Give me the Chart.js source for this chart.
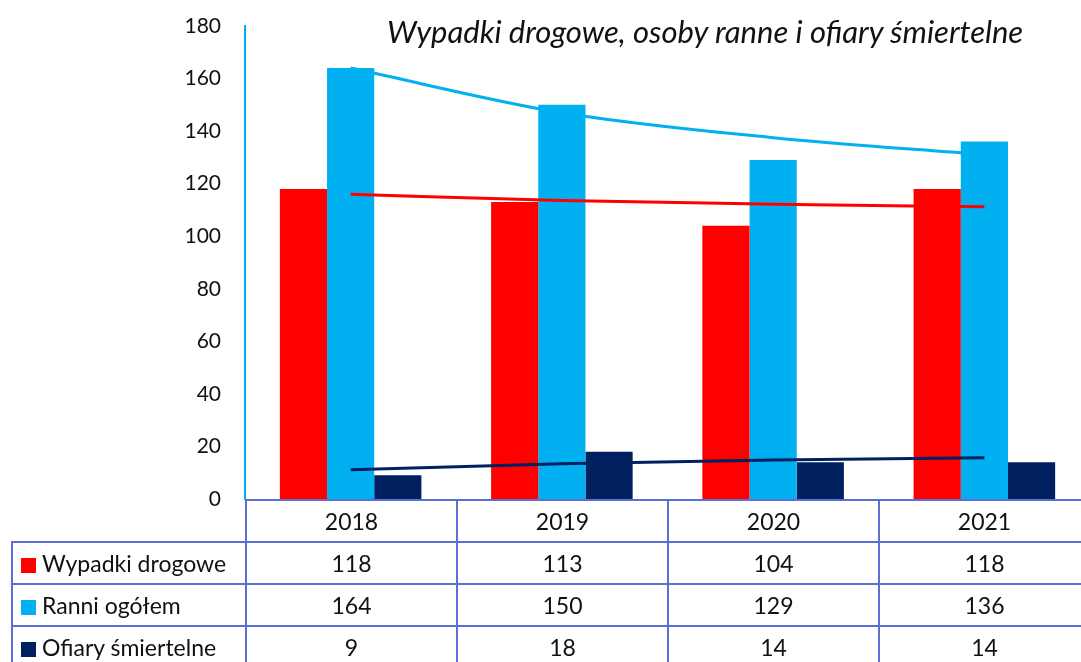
<!DOCTYPE html>
<html lang="pl">
<head>
<meta charset="utf-8">
<script src="https://cdn.jsdelivr.net/npm/chart.js@4.4.1/dist/chart.umd.min.js"></script>
<style>
  html, body { margin: 0; padding: 0; background: #fff; overflow: hidden; }
  body { width: 1081px; height: 662px; position: relative; font-family: Lato, "Noto Sans", sans-serif; }
  #wrap { position: absolute; left: 0; top: 0; width: 1090px; height: 520px; }
  #title {
    position: absolute; left: 387px; top: 12px;
    font: italic 31px Lato, "Noto Sans", sans-serif; color: #111; white-space: nowrap;
  }
  #data-table {
    position: absolute; left: 11px; top: 499px; width: 1079px;
    border-collapse: collapse; table-layout: fixed;
    font-size: 23px; color: #111;
  }
  #data-table td {
    border: 2px solid #5d6fd2; height: 40px; padding: 0;
    text-align: center; white-space: nowrap;
  }
  #data-table td.name { text-align: left; padding-left: 8px; }
  #data-table td.blank { border: none; border-right: 2px solid #5d6fd2; }
  .key { display: inline-block; width: 15px; height: 15px; margin-right: 6px; vertical-align: -1px; }
</style>
</head>
<body>
<div id="wrap"><canvas id="chart"></canvas></div>
<div id="title">Wypadki drogowe, osoby ranne i ofiary śmiertelne</div>
<table id="data-table"></table>
<script>
const years = ["2018", "2019", "2020", "2021"];
const wypadki = [118, 113, 104, 118];
const ranni = [164, 150, 129, 136];
const ofiary = [9, 18, 14, 14];

// trend lines at each year
const trendWypadki = [116, 113.6, 112.2, 111.2];
const trendRanni = [164, 147, 137.5, 131];
const trendOfiary = [11.1, 13.4, 14.8, 15.7];

const yTicks = [0, 20, 40, 60, 80, 100, 120, 140, 160, 180];

const RED = "#ff0000";
const BLUE = "#00b0f0";
const NAVY = "#002060";

const series = [
  { name: "Wypadki drogowe", data: wypadki, color: RED },
  { name: "Ranni ogółem", data: ranni, color: BLUE },
  { name: "Ofiary śmiertelne", data: ofiary, color: NAVY },
];

const barSet = (s) => ({
  type: "bar",
  label: s.name,
  data: s.data,
  backgroundColor: s.color,
  borderWidth: 0,
  categoryPercentage: 0.67,
  barPercentage: 1,
  order: 2,
});

const trendSet = (data, color) => ({
  type: "line",
  label: "trend",
  data: data,
  borderColor: color,
  borderWidth: 3,
  pointRadius: 0,
  cubicInterpolationMode: "monotone",
  fill: false,
  order: 1,
});

new Chart(document.getElementById("chart"), {
  data: {
    labels: years,
    datasets: [
      ...series.map(barSet),
      trendSet(trendWypadki, RED),
      trendSet(trendRanni, BLUE),
      trendSet(trendOfiary, NAVY),
    ],
  },
  options: {
    responsive: true,
    maintainAspectRatio: false,
    animation: false,
    layout: { padding: { top: 26, bottom: 21, left: 0, right: 0 } },
    plugins: { legend: { display: false }, tooltip: { enabled: false } },
    scales: {
      x: { display: false, offset: true },
      y: {
        min: 0,
        max: 180,
        afterBuildTicks: (s) => { s.ticks = yTicks.map((v) => ({ value: v })); },
        afterFit: (s) => {
          s.width = 245;
          s.paddingTop = 0;
          s.paddingBottom = 0;
        },
        grid: { display: false, drawTicks: false },
        border: { display: true, color: BLUE, width: 2 },
        ticks: { color: "#111", padding: 24, font: { family: "Lato", size: 21 } },
      },
    },
  },
});

// data table under the plot
const table = document.getElementById("data-table");
table.innerHTML =
  `<colgroup><col style="width:234px">${years
    .map(() => `<col style="width:211px">`)
    .join("")}</colgroup>` +
  `<tr><td class="blank"></td>${years.map((y) => `<td>${y}</td>`).join("")}</tr>` +
  series
    .map(
      (s) => `
    <tr>
      <td class="name"><span class="key" style="background:${s.color}"></span>${s.name}</td>
      ${s.data.map((v) => `<td>${v}</td>`).join("")}
    </tr>`,
    )
    .join("");
</script>
</body>
</html>
